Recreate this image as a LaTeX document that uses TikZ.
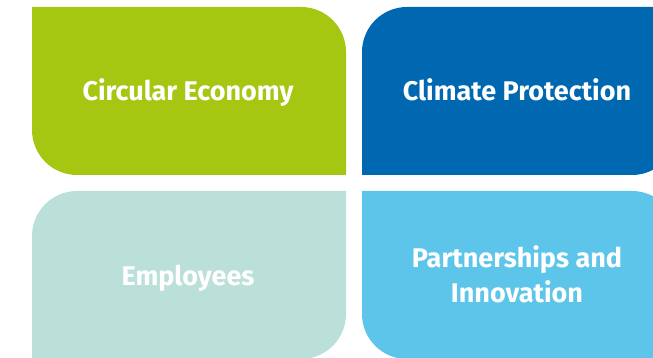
\documentclass[tikz,border=0pt]{standalone}
\usepackage{fontspec}
\newfontfamily\lblfont{Fira Sans}
\definecolor{cgreen}{RGB}{166,199,17}
\definecolor{cblue}{RGB}{0,103,177}
\definecolor{cteal}{RGB}{187,224,217}
\definecolor{clight}{RGB}{94,197,234}
\tikzset{
  lbl/.style={text=white, font=\lblfont\bfseries\fontsize{27}{35}\selectfont, align=center, inner sep=0pt, anchor=base}
}
\begin{document}
\begin{tikzpicture}[x=1pt,y=1pt]
\useasboundingbox (0,0) rectangle (653,358);
\clip (0,0) rectangle (653,358);
% green: rounded top-right, bottom-left
\fill[cgreen] (32,351) -- (301,351) arc[start angle=90,end angle=0,radius=45] -- (346,183) -- (77,183) arc[start angle=270,end angle=180,radius=45] -- cycle;
% dark blue: rounded top-left, bottom-right
\fill[cblue] (362,306) arc[start angle=180,end angle=90,radius=45] -- (677,351) -- (677,228) arc[start angle=0,end angle=-90,radius=45] -- (362,183) -- cycle;
% teal: rounded top-left, bottom-right
\fill[cteal] (32,122) arc[start angle=180,end angle=90,radius=45] -- (346,167) -- (346,44) arc[start angle=0,end angle=-90,radius=45] -- (32,-1) -- cycle;
% light blue: rounded top-right, bottom-left
\fill[clight] (362,167) -- (632,167) arc[start angle=90,end angle=0,radius=45] -- (677,-1) -- (407,-1) arc[start angle=270,end angle=180,radius=45] -- cycle;
\node[lbl] (ce) at (188,257) {Circular Economy};
\node[lbl] (cp) at (517,257) {Climate Protection};
\node[lbl] (em) at (188,72) {Employees};
\node[lbl] (pi) at (517,55) {Partnerships and\\Innovation};
\end{tikzpicture}
\end{document}
